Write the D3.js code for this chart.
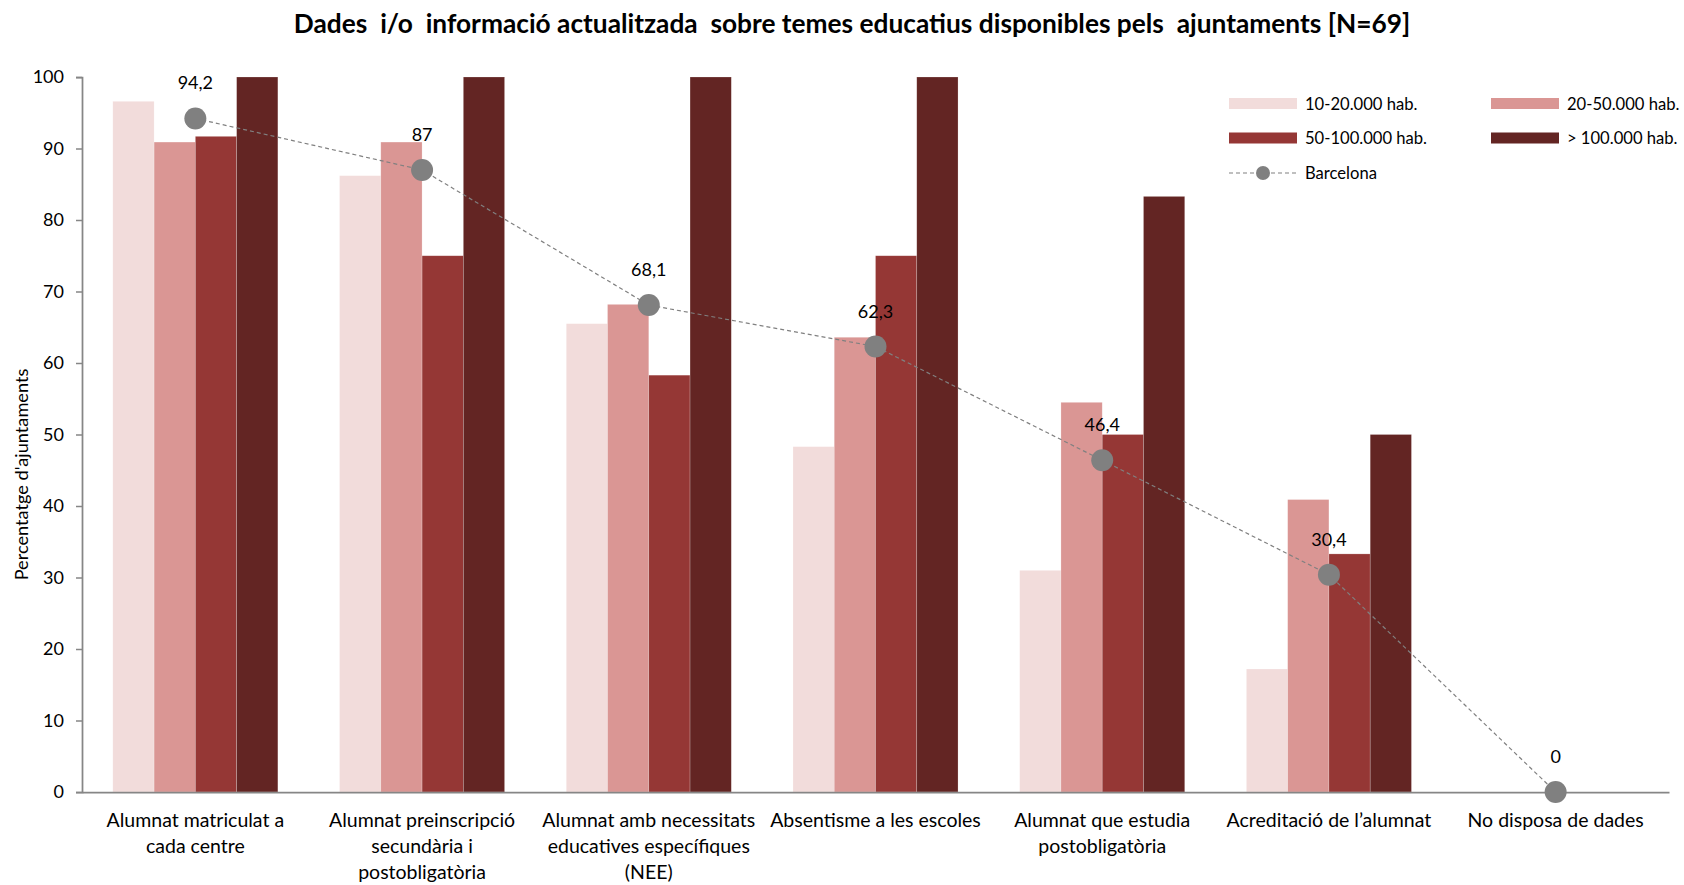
<!DOCTYPE html>
<html>
<head>
<meta charset="utf-8">
<script src="https://cdn.jsdelivr.net/npm/d3@7"></script>
<style>
  html, body { margin: 0; padding: 0; background: #fff; }
  svg { display: block; font-family: Lato, "Open Sans", sans-serif; }
</style>
</head>
<body>
<svg id="chart" width="1684" height="885"></svg>
<script>
// ---------- data ----------
const title = "Dades  i/o  informació actualitzada  sobre temes educatius disponibles pels  ajuntaments [N=69]";
const yAxisTitle = "Percentatge d'ajuntaments";
const categories = [
  "Alumnat matriculat a\ncada centre",
  "Alumnat preinscripció\nsecundària i\npostobligatòria",
  "Alumnat amb necessitats\neducatives específiques\n(NEE)",
  "Absentisme a les escoles",
  "Alumnat que estudia\npostobligatòria",
  "Acreditació de l’alumnat",
  "No disposa de dades"
];
const seriesNames = ["10-20.000 hab.", "20-50.000 hab.", "50-100.000 hab.", "> 100.000 hab."];
const s10_20   = [96.6, 86.2, 65.5, 48.3, 31.0, 17.2, 0];
const s20_50   = [90.9, 90.9, 68.2, 63.6, 54.5, 40.9, 0];
const s50_100  = [91.7, 75.0, 58.3, 75.0, 50.0, 33.3, 0];
const s100plus = [100, 100, 100, 100, 83.3, 50.0, 0];
const barcelonaName = "Barcelona";
const barcelona = [94.2, 87, 68.1, 62.3, 46.4, 30.4, 0];
const barcelonaLabels = ["94,2", "87", "68,1", "62,3", "46,4", "30,4", "0"];
const yTicks = [0, 10, 20, 30, 40, 50, 60, 70, 80, 90, 100];

const colors = ["#F2DCDB", "#DA9694", "#953735", "#632523"];
const seriesValues = [s10_20, s20_50, s50_100, s100plus];

(function () {
// ---------- layout ----------
const svg = d3.select("#chart");
const pL = 82, pR = 1669, pT = 77, pB = 792;
const axisColor = "#868686";

const x = d3.scaleBand().domain(d3.range(categories.length)).range([pL, pR]).padding(0);
const groupGap = x.bandwidth() * 0.272;
const xInner = d3.scaleBand().domain(d3.range(seriesNames.length))
  .range([groupGap / 2, x.bandwidth() - groupGap / 2]).padding(0);
const y = d3.scaleLinear().domain([0, 100]).range([pB, pT]);

// title
const t = svg.append("text")
  .attr("x", 852).attr("y", 33)
  .attr("text-anchor", "middle")
  .attr("font-weight", "bold")
  .attr("font-size", 24)
  .attr("fill", "#000")
  .style("white-space", "pre")
  .text(title);
{
  const w = t.node().getComputedTextLength();
  const target = 1117;
  t.attr("font-size", 24 * target / w);
}

// bars
const table = categories.map((c, i) => seriesValues.map((s, j) => ({ cat: i, ser: j, v: s[i] })));
const groups = svg.append("g").selectAll("g").data(table).join("g")
  .attr("transform", (d, i) => `translate(${x(i)},0)`);
groups.selectAll("rect").data(d => d).join("rect")
  .attr("x", d => xInner(d.ser))
  .attr("width", xInner.bandwidth())
  .attr("y", d => y(d.v))
  .attr("height", d => y(0) - y(d.v))
  .attr("fill", d => colors[d.ser])
  .attr("stroke", "#fff").attr("stroke-opacity", 0.35).attr("stroke-width", 0.6);

// y axis
const yAxis = d3.axisLeft(y).tickValues(yTicks).tickSize(6).tickPadding(12).tickFormat(d3.format("d"));
const ya = svg.append("g").attr("transform", `translate(${pL},0)`).call(yAxis);
ya.select(".domain").attr("stroke", axisColor).attr("stroke-width", 1.75);
ya.selectAll(".tick line").attr("stroke", axisColor).attr("stroke-width", 1.5);
ya.selectAll(".tick text").attr("font-size", 18).attr("fill", "#000").attr("font-family", "Lato, sans-serif");

// x axis
const xAxis = d3.axisBottom(x).tickSize(0).tickFormat("");
const xa = svg.append("g").attr("transform", `translate(0,${pB})`).call(xAxis);
xa.select(".domain").attr("stroke", axisColor).attr("stroke-width", 1.75);

// x labels
const xl = svg.append("g");
categories.forEach((c, i) => {
  const lines = c.split("\n");
  const txt = xl.append("text")
    .attr("x", x(i) + x.bandwidth() / 2)
    .attr("y", 827)
    .attr("text-anchor", "middle")
    .attr("font-size", 19.5)
    .attr("fill", "#000");
  lines.forEach((l, k) => {
    txt.append("tspan").attr("x", x(i) + x.bandwidth() / 2).attr("dy", k === 0 ? 0 : 25.8).text(l);
  });
});

// y axis title
svg.append("text")
  .attr("transform", `translate(28,${(pT + pB) / 2 + 40}) rotate(-90)`)
  .attr("text-anchor", "middle")
  .attr("font-size", 18.2)
  .attr("fill", "#000")
  .text(yAxisTitle);

// Barcelona line
const cx = i => x(i) + x.bandwidth() / 2;
const line = d3.line().x((d, i) => cx(i)).y(d => y(d));
svg.append("path").datum(barcelona)
  .attr("d", line)
  .attr("fill", "none")
  .attr("stroke", "#808080")
  .attr("stroke-width", 1.2)
  .attr("stroke-dasharray", "4,3");
svg.append("g").selectAll("circle").data(barcelona).join("circle")
  .attr("cx", (d, i) => cx(i)).attr("cy", d => y(d)).attr("r", 11)
  .attr("fill", "#808080");
svg.append("g").selectAll("text").data(barcelona).join("text")
  .attr("x", (d, i) => cx(i)).attr("y", d => y(d) - 29)
  .attr("text-anchor", "middle")
  .attr("font-size", 18)
  .attr("fill", "#000")
  .text((d, i) => barcelonaLabels[i]);

// legend
const legend = svg.append("g");
const legendItems = [
  { name: seriesNames[0], col: 0, row: 0, type: "bar", color: colors[0] },
  { name: seriesNames[1], col: 1, row: 0, type: "bar", color: colors[1] },
  { name: seriesNames[2], col: 0, row: 1, type: "bar", color: colors[2] },
  { name: seriesNames[3], col: 1, row: 1, type: "bar", color: colors[3] },
  { name: barcelonaName, col: 0, row: 2, type: "line", color: "#808080" }
];
const colX = [1229, 1491], rowY = [103.5, 138, 173];
legendItems.forEach(it => {
  const gx = colX[it.col], gy = rowY[it.row];
  if (it.type === "bar") {
    legend.append("rect").attr("x", gx).attr("y", gy - 5.5).attr("width", 68).attr("height", 11).attr("fill", it.color);
  } else {
    legend.append("line").attr("x1", gx).attr("x2", gx + 68).attr("y1", gy).attr("y2", gy)
      .attr("stroke", it.color).attr("stroke-width", 1.2).attr("stroke-dasharray", "4,3");
    legend.append("circle").attr("cx", gx + 34).attr("cy", gy).attr("r", 7).attr("fill", it.color);
  }
  legend.append("text").attr("x", gx + 76).attr("y", gy + 6).attr("font-size", 16.6).attr("fill", "#000").text(it.name);
});
})();
</script>
</body>
</html>
